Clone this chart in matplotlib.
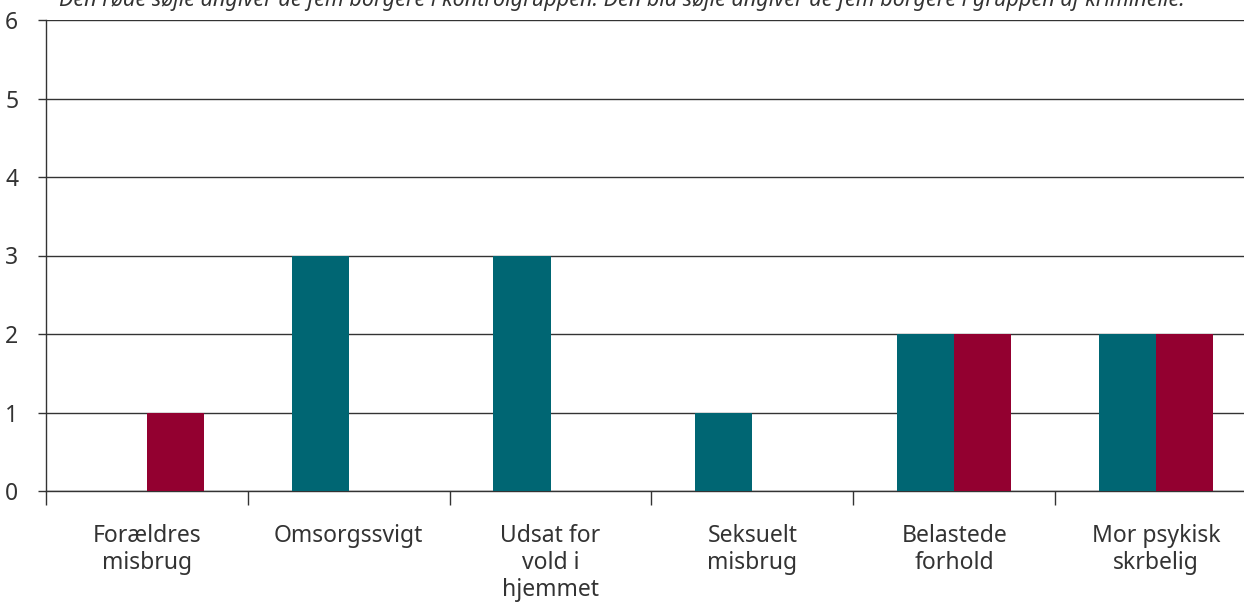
import matplotlib
matplotlib.use("Agg")
import matplotlib.pyplot as plt
import numpy as np

categories = ["Forældres\nmisbrug", "Omsorgssvigt", "Udsat for\nvold i\nhjemmet",
              "Seksuelt\nmisbrug", "Belastede\nforhold", "Mor psykisk\nskrbelig"]
kriminelle = [0, 3, 3, 1, 2, 2]      # blå/teal
kontrol = [1, 0, 0, 0, 2, 2]         # rød
yticks = [0, 1, 2, 3, 4, 5, 6]
note = ("Den røde søjle angiver de fem borgere i kontrolgruppen. "
        "Den blå søjle angiver de fem borgere i gruppen af kriminelle.")

plt.rcParams['font.family'] = ['Noto Sans', 'DejaVu Sans']
W, H = 1244, 605
fig = plt.figure(figsize=(W / 100, H / 100), dpi=100)
left, right, top, bottom = 46, 1257, 20, 491
ax = fig.add_axes([left / W, 1 - bottom / H, (right - left) / W, (bottom - top) / H])

x = np.arange(len(categories))
bw = 0.283
teal = "#006673"
red = "#930030"
ax.bar(x - bw / 2, kriminelle, bw, color=teal, zorder=3)
ax.bar(x + bw / 2, kontrol, bw, color=red, zorder=3)

ax.set_xlim(-0.5, len(categories) - 0.5)
ax.set_ylim(0, 6)
ax.set_yticks(yticks)
ax.set_yticklabels([str(v) for v in yticks], fontsize=16.5, color="#333333")
ax.yaxis.grid(True, color="#333333", linewidth=1.0, zorder=0)
ax.set_axisbelow(True)
for s in ["top", "right"]:
    ax.spines[s].set_visible(False)
for s in ["left", "bottom"]:
    ax.spines[s].set_color("#333333")
    ax.spines[s].set_linewidth(1.0)
ax.tick_params(axis="y", length=6, width=1, color="#333333", pad=14)

ax.set_xticks(np.arange(len(categories) + 1) - 0.5)
ax.set_xticklabels([])
ax.tick_params(axis="x", length=10, width=1, color="#333333", direction="out")
ax.set_xticks(x, minor=True)
ax.set_xticklabels(categories, minor=True, fontsize=16.5, color="#333333", linespacing=1.15)
ax.tick_params(axis="x", which="minor", length=0, pad=24)

fig.text(0.5, 1 - 6 / H, note, ha="center", va="baseline", fontsize=15.5,
         style="italic", color="#333333")

fig.savefig("out.png", dpi=100)
